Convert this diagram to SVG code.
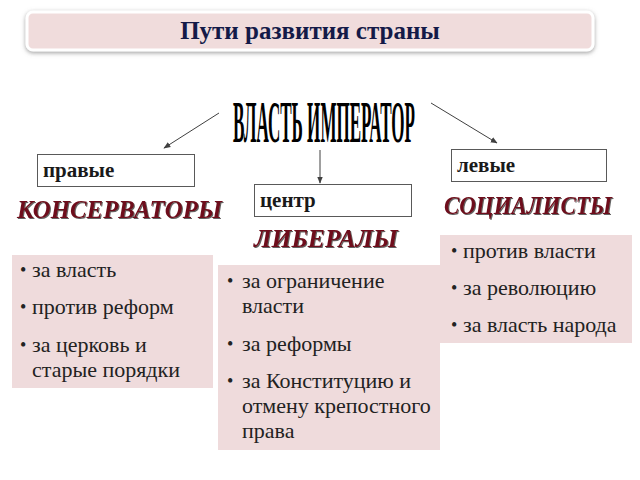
<svg xmlns="http://www.w3.org/2000/svg" width="640" height="480" viewBox="0 0 640 480">
<style>
.bx{fill:#ffffff;stroke:#595959;stroke-width:1}
.lbl{font-family:"Liberation Serif","Times New Roman",serif;font-weight:bold;font-size:21px;fill:#1a1a1a}
.grp{font-family:"Liberation Serif","Times New Roman",serif;font-weight:bold;font-style:italic;font-size:25px;fill:#6e0c1a;filter:url(#ts)}
.pink{fill:#efdbdc}
.bl{font-family:"Liberation Serif","Times New Roman",serif;font-size:22px;fill:#222222}
.dot{font-family:"Liberation Serif","Times New Roman",serif;font-size:18px;fill:#222222}
.con{stroke:#404040;stroke-width:1;fill:none;marker-end:url(#ah)}
</style>
<defs>
<marker id="ah" viewBox="0 0 10 10" refX="9" refY="5" markerWidth="7" markerHeight="7" orient="auto" markerUnits="userSpaceOnUse">
<path d="M0,1 L10,5 L0,9 z" fill="#404040"/>
</marker>
<filter id="ts" x="-5%" y="-20%" width="110%" height="140%">
<feDropShadow dx="1" dy="1" stdDeviation="0.6" flood-color="#3a3a3a" flood-opacity="0.8"/>
</filter>
<filter id="bs" x="-5%" y="-30%" width="110%" height="160%">
<feDropShadow dx="0" dy="1.5" stdDeviation="2" flood-color="#777777" flood-opacity="0.7"/>
</filter>
</defs>
<rect width="640" height="480" fill="#ffffff"/>

<g id="title">
<rect x="27" y="12" width="566" height="38" rx="6" fill="#f0dcdc" stroke="#ffffff" stroke-width="3" filter="url(#bs)"/>
<text x="310" y="39" text-anchor="middle" font-family="'Liberation Serif','Times New Roman',serif" font-weight="bold" font-size="25" fill="#141a48">Пути развития страны</text>
</g>

<g id="power">
<text transform="translate(233,142) scale(1,2.27)" x="0" y="0" textLength="182" lengthAdjust="spacingAndGlyphs" font-family="'Liberation Serif','Times New Roman',serif" font-weight="bold" font-size="26" fill="#000000">ВЛАСТЬ ИМПЕРАТОР</text>
</g>

<g id="connectors">
<line class="con" x1="219" y1="113" x2="164" y2="148"/>
<line class="con" x1="320" y1="150" x2="320" y2="183"/>
<line class="con" x1="431" y1="103" x2="497" y2="143"/>
</g>

<g id="right-wing">
<rect class="bx" x="37.5" y="154.5" width="157" height="32"/>
<text class="lbl" x="43" y="177">правые</text>
<text class="grp" x="17" y="218" textLength="205" lengthAdjust="spacingAndGlyphs">КОНСЕРВАТОРЫ</text>
<rect class="pink" x="12" y="255" width="201" height="133"/>
<text class="dot" x="20" y="276">•</text><text class="bl" x="32" y="277">за власть</text>
<text class="dot" x="20" y="313">•</text><text class="bl" x="32" y="314">против реформ</text>
<text class="dot" x="20" y="351">•</text><text class="bl" x="32" y="352">за церковь и</text>
<text class="bl" x="32" y="377">старые порядки</text>
</g>

<g id="center">
<rect class="bx" x="254.5" y="184.5" width="157" height="32"/>
<text class="lbl" x="260" y="207">центр</text>
<text class="grp" x="254" y="247" textLength="144" lengthAdjust="spacingAndGlyphs">ЛИБЕРАЛЫ</text>
<rect class="pink" x="218" y="265" width="222" height="185"/>
<text class="dot" x="227" y="287">•</text><text class="bl" x="242" y="288">за ограничение</text>
<text class="bl" x="242" y="313">власти</text>
<text class="dot" x="227" y="350">•</text><text class="bl" x="242" y="351">за реформы</text>
<text class="dot" x="227" y="387">•</text><text class="bl" x="242" y="388">за Конституцию и</text>
<text class="bl" x="242" y="413">отмену крепостного</text>
<text class="bl" x="242" y="438">права</text>
</g>

<g id="left-wing">
<rect class="bx" x="451.5" y="149.5" width="155" height="32"/>
<text class="lbl" x="457" y="172">левые</text>
<text class="grp" x="444" y="214" textLength="168" lengthAdjust="spacingAndGlyphs">СОЦИАЛИСТЫ</text>
<rect class="pink" x="440" y="235" width="192" height="108"/>
<text class="dot" x="451" y="257">•</text><text class="bl" x="463" y="258">против власти</text>
<text class="dot" x="451" y="294">•</text><text class="bl" x="463" y="295">за революцию</text>
<text class="dot" x="451" y="331">•</text><text class="bl" x="463" y="332">за власть народа</text>
</g>
</svg>
